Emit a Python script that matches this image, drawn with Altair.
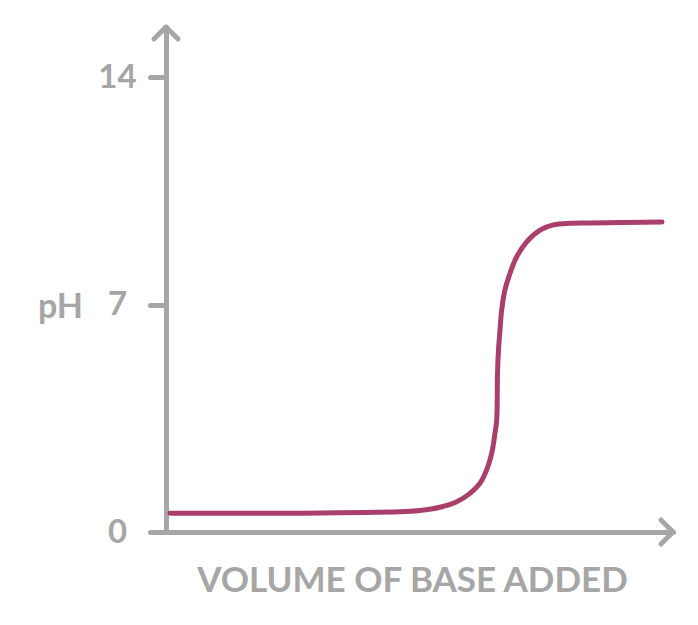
import altair as alt
import pandas as pd

# Titration curve (volume in arbitrary 0-100 units, pH)
volume = [0.8, 26.4, 46.15, 50.1, 54.04, 57.34, 59.96, 61.93, 63.25, 64.24, 64.89, 65.23,
          65.38, 65.58, 65.88, 66.21, 66.86, 67.85, 69.17, 71.14, 73.77, 76.39, 79.68, 83.63, 97.83]
ph     = [0.58, 0.58, 0.62, 0.66, 0.76, 0.93, 1.19, 1.50, 1.91, 2.42, 3.04, 3.45,
          4.83, 5.60, 6.22, 6.83, 7.45, 7.96, 8.47, 8.93, 9.29, 9.45, 9.50, 9.51, 9.54]

y_ticks = [0, 7, 14]
x_max = 100
y_max = 15.54

GRAY = "#a6a6a6"
LINE = "#a9406b"
FONT = "Lato"

curve = pd.DataFrame({"volume": volume, "ph": ph})
arrows = pd.DataFrame({
    "volume": [0, x_max],
    "ph": [y_max, 0],
    "shape": ["M-1,1L0,0L1,1", "M-1,-1L0,0L-1,1"],
})

xscale = alt.Scale(domain=[0, x_max], nice=False, zero=False)
yscale = alt.Scale(domain=[0, y_max], nice=False, zero=False)

line = alt.Chart(curve).mark_line(
    color=LINE, strokeWidth=5, strokeCap="round", strokeJoin="round", interpolate="catmull-rom"
).encode(
    x=alt.X("volume:Q", scale=xscale, axis=alt.Axis(
        title="VOLUME OF BASE ADDED", labels=False, ticks=False, grid=False,
        domainColor=GRAY, domainWidth=5, domainCap="round",
        titleFont=FONT, titleFontSize=35, titleFontWeight="bold", titleColor=GRAY,
        titleX=246, titleY=48, titleAlign="center", titleBaseline="middle",
    )),
    y=alt.Y("ph:Q", scale=yscale, axis=alt.Axis(
        title="pH", values=y_ticks, grid=False,
        domainColor=GRAY, domainWidth=5, domainCap="round",
        tickColor=GRAY, tickWidth=5, tickSize=16, tickCap="round",
        labelFont=FONT, labelFontSize=33, labelFontWeight="bold", labelColor=GRAY, labelPadding=33,
        labelAlign="center", labelBaseline="middle",
        titleFont=FONT, titleFontSize=34, titleFontWeight="bold", titleColor=GRAY,
        titleAngle=0, titleX=-106, titleY=280, titleAlign="center", titleBaseline="middle",
    )),
)

heads = alt.Chart(arrows).mark_point(
    filled=False, stroke=GRAY, strokeWidth=5, strokeCap="round", strokeJoin="round",
    size=576, opacity=1,
).encode(
    x=alt.X("volume:Q", scale=xscale),
    y=alt.Y("ph:Q", scale=yscale),
    shape=alt.Shape("shape:N", scale=None, legend=None),
)

chart = alt.layer(line, heads).properties(
    width=507, height=505,
    background="white",
    autosize=alt.AutoSizeParams(type="none"),
    padding={"left": 158, "top": 19, "right": 10, "bottom": 80},
).configure_view(strokeWidth=0, stroke="transparent")

chart.save("out.html", embed_options={"renderer": "svg", "actions": False})
